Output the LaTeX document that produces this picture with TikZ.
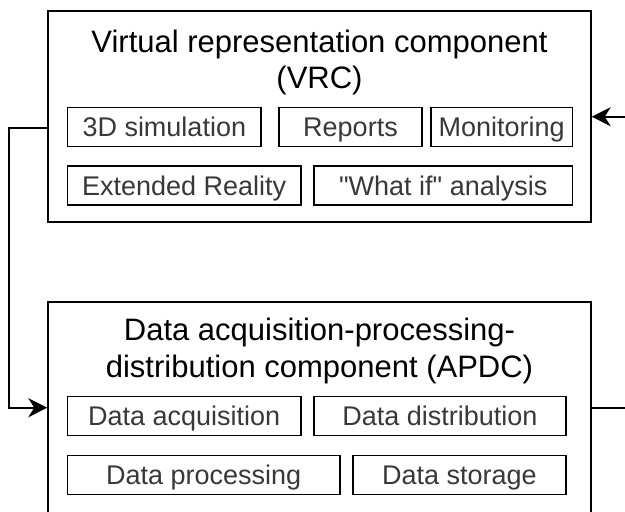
\documentclass[tikz,border=0pt]{standalone}
\usepackage{fontspec}
\setmainfont{Liberation Sans}
\newfontfamily\lsans{Liberation Sans}
\usetikzlibrary{arrows.meta}

\begin{document}
\begin{tikzpicture}[x=1pt,y=-1pt,
  comp/.style={draw,line width=2pt,minimum width=542.4pt,minimum height=211.5pt,inner sep=0pt},
  ttl/.style={font=\lsans\fontsize{31}{36.6}\selectfont,align=center,anchor=north,inner sep=0pt},
  sub/.style={draw,line width=1.4pt,text=black!78,font=\lsans\fontsize{27}{30}\selectfont,
    minimum height=39pt,inner sep=0pt,text height=19.5pt,text depth=0pt},
  conn/.style={line width=2pt},
  arr/.style={-{Stealth[length=19pt,width=19pt,inset=6pt]}}]

\useasboundingbox (0,0) rectangle (625,512);
\clip (0,0) rectangle (625,512);

% VRC
\node[comp] (VRC) at (319.5,116.7) {};
\node[ttl] (VRCt) at (319.5,29.5) {Virtual representation component\\(VRC)};
\node[sub,minimum width=193.5pt] (sim) at (164.3,127) {3D simulation};
\node[sub,minimum width=143pt] (rep) at (350.5,127) {Reports};
\node[sub,minimum width=141.5pt] (mon) at (501.7,127) {Monitoring};
\node[sub,minimum width=233.5pt] (xr) at (184.2,185.5) {Extended Reality};
\node[sub,minimum width=258.5pt] (wif) at (443.2,185.5) {"What if" analysis};

% APDC
\node[comp] (APDC) at (319.5,407.7) {};
\node[ttl] (APDCt) at (319.5,318) {Data acquisition-processing-\\distribution component (APDC)};
\node[sub,minimum width=233.5pt] (acq) at (184.2,416.2) {Data acquisition};
\node[sub,minimum width=252pt] (dist) at (440,416.2) {Data distribution};
\node[sub,minimum width=272.5pt] (proc) at (203.7,475.2) {Data processing};
\node[sub,minimum width=213pt] (stor) at (459.5,475.2) {Data storage};

% loose ends at the right border
\coordinate (inR) at (625,116.7);
\coordinate (outR) at (625,407.7);

\draw[conn,arr] ([yshift=-11pt]VRC.west) -- ++(-38.8,0) |- (APDC.west);
\draw[conn,arr] (inR) -- (VRC.east);
\draw[conn] (APDC.east) -- (outR);
\end{tikzpicture}
\end{document}
